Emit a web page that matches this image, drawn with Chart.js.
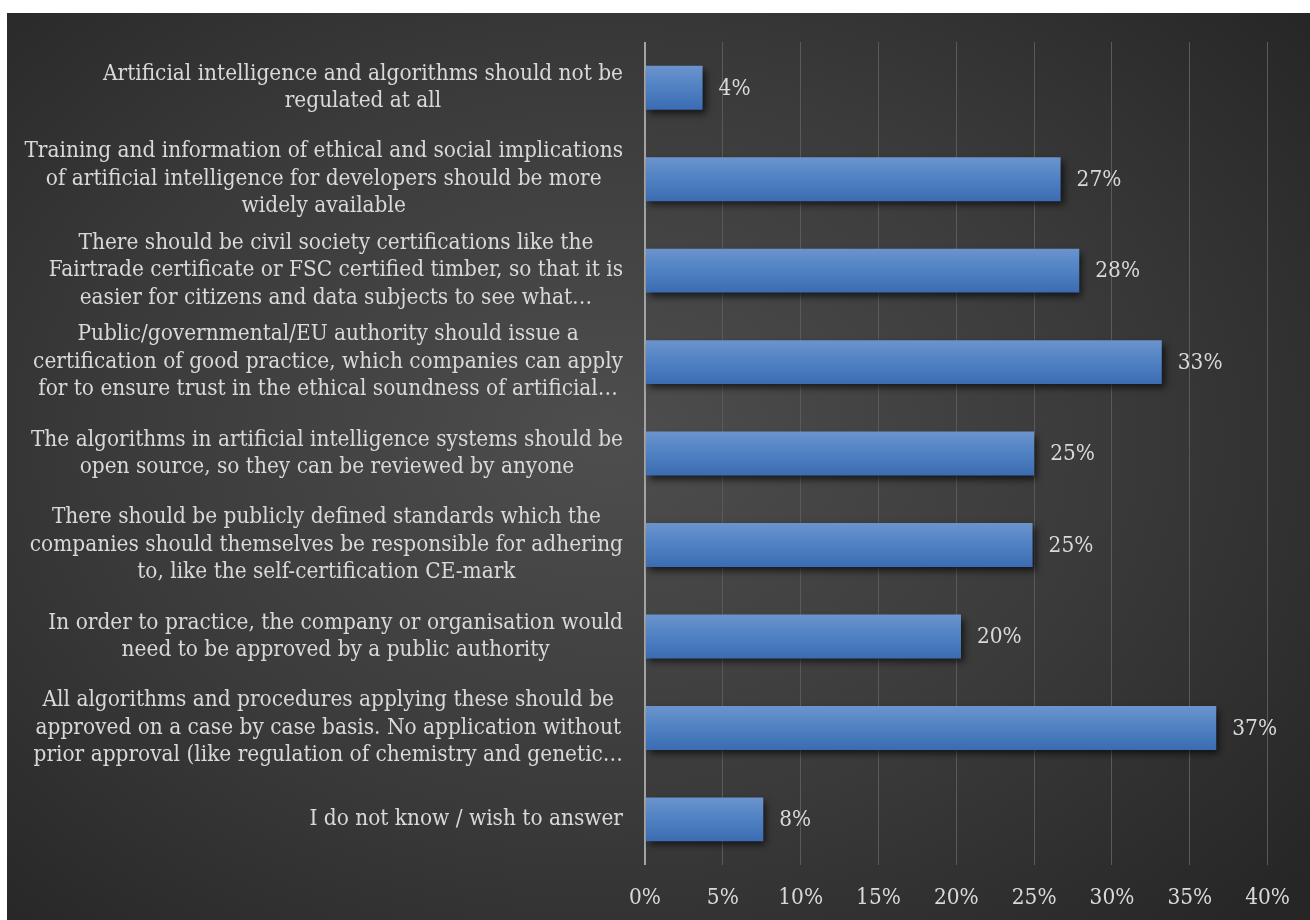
<!DOCTYPE html>
<html>
<head>
<meta charset="utf-8">
<script src="https://cdn.jsdelivr.net/npm/chart.js@4"></script>
<style>
  html, body { margin: 0; padding: 0; background: #fff; }
  #box {
    position: absolute; left: 7px; top: 13px; width: 1303px; height: 907px;
    background: radial-gradient(ellipse 70% 75% at 46% 47%, #4e4e4e 0%, #3a3a3a 55%, #262626 100%);
  }
</style>
</head>
<body>
<div id="box"><canvas id="myChart"></canvas></div>
<script>
// categories, top to bottom
const labels = [
  ['Artificial intelligence and algorithms should not be', 'regulated at all'],
  ['Training and information of ethical and social implications', 'of artificial intelligence for developers should be more', 'widely available'],
  ['There should be civil society certifications like the', 'Fairtrade certificate or FSC certified timber, so that it is', 'easier for citizens and data subjects to see what…'],
  ['Public/governmental/EU authority should issue a', 'certification of good practice, which companies can apply', 'for to ensure trust in the ethical soundness of artificial…'],
  ['The algorithms in artificial intelligence systems should be', 'open source, so they can be reviewed by anyone'],
  ['There should be publicly defined standards which the', 'companies should themselves be responsible for adhering', 'to, like the self-certification CE-mark'],
  ['In order to practice, the company or organisation would', 'need to be approved by a public authority'],
  ['All algorithms and procedures applying these should be', 'approved on a case by case basis. No application without', 'prior approval (like regulation of chemistry and genetic…'],
  ['I do not know / wish to answer']
]
const shares = [3.7, 26.7, 27.9, 33.2, 25.0, 24.9, 20.3, 36.7, 7.6] // en %
const valueLabels = ['4%', '27%', '28%', '33%', '25%', '25%', '20%', '37%', '8%']

const FONT = '"DejaVu Serif Condensed", "DejaVu Serif", serif'
const TXT = '#d9d9d9'

// taille de police calée sur la largeur de la ligne la plus longue (~598 px)
const probe = document.createElement('canvas').getContext('2d')
probe.font = '100px ' + FONT
const SIZE = Math.round(100 * 598 / probe.measureText(labels[1][0]).width * 10) / 10

// libellés de catégories : bloc aligné à droite, lignes centrées
const catLabels = {
  id: 'catLabels',
  afterDraw(chart) {
    const c = chart.ctx, y = chart.scales.y
    c.save()
    c.font = SIZE + 'px ' + FONT
    c.fillStyle = TXT
    c.textAlign = 'center'
    c.textBaseline = 'middle'
    const right = chart.chartArea.left - 22
    const lh = 27.5
    labels.forEach((lines, i) => {
      const w = Math.max(...lines.map(l => c.measureText(l).width))
      const cx = right - w / 2
      const cy = y.getPixelForValue(i)
      lines.forEach((l, k) => {
        c.fillText(l, cx, cy + (k - (lines.length - 1) / 2) * lh)
      })
    })
    c.restore()
  }
}

// dégradé + ombre des barres, puis étiquettes de valeurs
const barShadow = {
  id: 'barShadow',
  beforeDatasetsDraw(chart) {
    const c = chart.ctx
    chart.getDatasetMeta(0).data.forEach((bar) => {
      const top = bar.y - bar.height / 2
      const g = c.createLinearGradient(0, top, 0, top + bar.height)
      g.addColorStop(0, '#6b94cd')
      g.addColorStop(0.5, '#4f81c3')
      g.addColorStop(1, '#3b6cb2')
      bar.options.backgroundColor = g
    })
    c.save()
    c.shadowColor = 'rgba(0,0,0,0.65)'
    c.shadowBlur = 7
    c.shadowOffsetX = 3
    c.shadowOffsetY = 4
  },
  afterDatasetsDraw(chart) {
    const c = chart.ctx
    c.restore()
    c.save()
    c.font = SIZE + 'px ' + FONT
    c.fillStyle = TXT
    c.textAlign = 'left'
    c.textBaseline = 'middle'
    chart.getDatasetMeta(0).data.forEach((bar, i) => {
      c.fillText(valueLabels[i], bar.x + 16, bar.y + 1)
    })
    c.restore()
  }
}

const ctx = document.getElementById('myChart')

new Chart(ctx, {
  type: 'bar',
  data: {
    labels: labels.map(l => l.join(' ')),
    datasets: [{
      data: shares,
      // fonction => options propres à chaque barre (non partagées)
      backgroundColor: (c) => '#4f81bd',
      borderWidth: 0,
      categoryPercentage: 1,
      barPercentage: 0.48
    }]
  },
  options: {
    indexAxis: 'y',
    responsive: true,
    maintainAspectRatio: false,
    animation: false,
    layout: { padding: { left: 638, right: 32, top: 29, bottom: -12 } },
    plugins: { legend: { display: false }, tooltip: { enabled: false } },
    scales: {
      x: {
        min: 0, max: 40,
        border: { display: false },
        grid: {
          drawTicks: false,
          color: (c) => c.tick && c.tick.value === 0 ? '#a3a3a3' : '#5a5a5a',
          lineWidth: (c) => c.tick && c.tick.value === 0 ? 2 : 1
        },
        ticks: {
          stepSize: 5,
          padding: 20,
          color: TXT,
          font: { family: FONT, size: SIZE },
          callback: (v) => v + '%'
        }
      },
      y: { display: false }
    }
  },
  plugins: [catLabels, barShadow]
})
</script>
</body>
</html>
